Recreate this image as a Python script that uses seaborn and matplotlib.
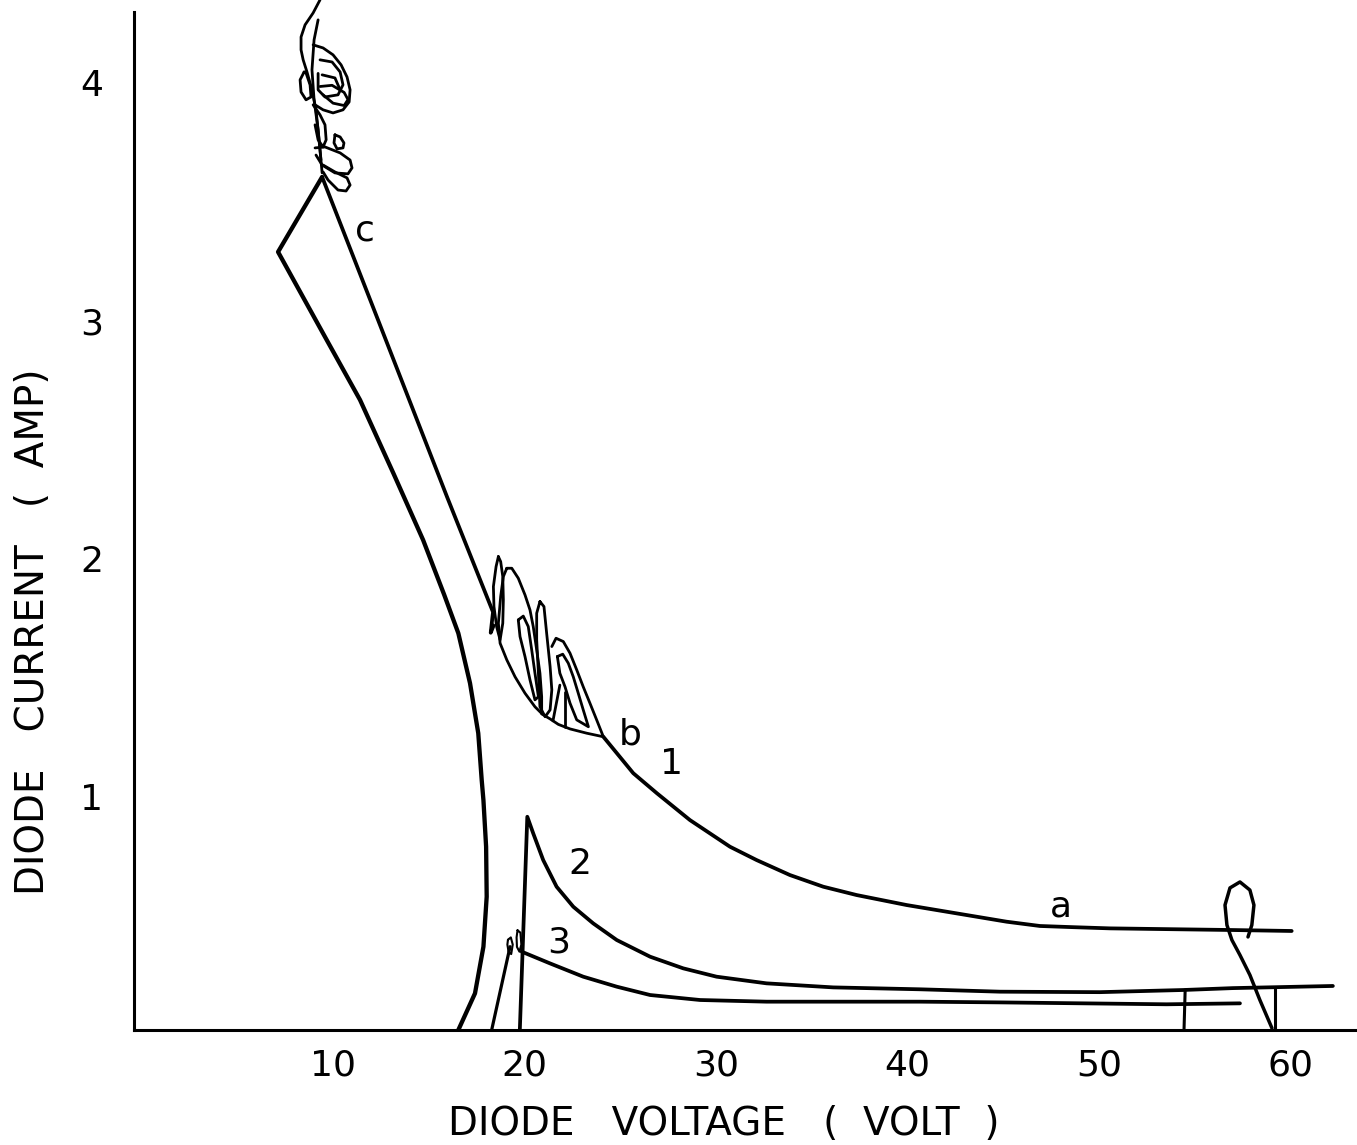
import numpy as np
import pandas as pd
import matplotlib
matplotlib.use("Agg")
import matplotlib.pyplot as plt
import seaborn as sns

# ---------------- data ----------------
# left envelope curve (from the axis up to the corner, then up to the top tangle)
left_x = [16.56, 17.43, 17.87, 18.04, 18.01, 17.87, 17.78, 17.60, 17.17, 16.56, 15.82, 14.72, 13.17, 11.43, 9.69, 7.15, 9.45]
left_y = [0.021, 0.175, 0.371, 0.581, 0.791, 0.987, 1.071, 1.268, 1.478, 1.688, 1.850, 2.080, 2.360, 2.668, 2.920, 3.290, 3.605]

# curve 1, upper part  c -> tangle b
c1_upper_x = [9.45, 12.37, 15.97, 18.37, 18.25, 18.40]
c1_upper_y = [3.605, 3.004, 2.261, 1.777, 1.690, 1.720]

# curve 1, lower part  b -> a
c1_lower_x = [24.13, 25.69, 26.92, 28.65, 30.74, 32.13, 33.87, 35.61, 37.35, 39.96, 42.57, 45.18, 46.92, 48.66, 50.57, 56.99, 60.06]
c1_lower_y = [1.253, 1.100, 1.016, 0.903, 0.791, 0.735, 0.672, 0.623, 0.588, 0.546, 0.511, 0.476, 0.458, 0.453, 0.448, 0.441, 0.437]

# curve 2
c2_x = [19.77, 20.16, 20.47, 20.99, 21.69, 22.56, 23.60, 24.83, 26.57, 28.30, 30.04, 32.65, 36.13, 40.66, 44.83, 50.05, 54.38, 56.99, 62.21]
c2_y = [0.021, 0.917, 0.847, 0.735, 0.623, 0.539, 0.469, 0.399, 0.329, 0.280, 0.245, 0.217, 0.200, 0.192, 0.182, 0.180, 0.189, 0.197, 0.206]

# curve 3
c3_x = [19.87, 21.34, 23.08, 24.83, 26.57, 29.18, 32.65, 36.13, 40.66, 44.83, 53.53, 57.36]
c3_y = [0.350, 0.301, 0.245, 0.203, 0.168, 0.147, 0.140, 0.140, 0.140, 0.137, 0.129, 0.133]

# rising branch of curve 3
rise3_x = [18.30, 19.26]
rise3_y = [0.021, 0.371]

# small loops at the top of the rising branch
small1_x = [19.15, 19.30, 19.40, 19.32, 19.18, 19.12, 19.15]
small1_y = [0.40, 0.41, 0.38, 0.34, 0.35, 0.38, 0.40]
small2_x = [19.65, 19.80, 19.85, 19.75, 19.62, 19.60, 19.65]
small2_y = [0.44, 0.43, 0.38, 0.35, 0.37, 0.41, 0.44]

# vertical markers on the right
vert1_x = [54.44, 54.50]
vert1_y = [0.021, 0.189]
vert2_x = [59.19, 59.19]
vert2_y = [0.021, 0.200]

# loop on the right
rloop_x = [57.78, 57.98, 58.09, 57.88, 57.36, 56.84, 56.58, 56.68, 56.94, 57.36, 57.88, 58.40, 59.03]
rloop_y = [0.412, 0.462, 0.546, 0.609, 0.643, 0.618, 0.546, 0.462, 0.399, 0.336, 0.252, 0.147, 0.029]

# tangle near c (top)
tA_x = [9.34, 8.98, 8.56, 8.35, 8.35, 8.46, 8.66, 8.92, 9.13, 9.24, 9.34, 9.45]
tA_y = [4.349, 4.294, 4.244, 4.193, 4.139, 4.097, 4.046, 3.971, 3.887, 3.803, 3.718, 3.622]
tA2_x = [9.24, 9.03, 8.92, 9.03, 9.24, 9.39]
tA2_y = [4.265, 4.181, 4.055, 3.929, 3.803, 3.676]
tB_x = [8.98, 9.50, 10.02, 10.44, 10.75, 10.91, 10.86, 10.54, 10.02, 9.50, 9.08]
tB_y = [4.160, 4.147, 4.118, 4.076, 4.025, 3.971, 3.920, 3.887, 3.874, 3.887, 3.908]
tC_x = [9.34, 9.97, 10.39, 10.54, 10.28, 9.60, 9.24, 9.24]
tC_y = [4.097, 4.088, 4.046, 3.992, 3.950, 3.941, 3.971, 4.040]
tC2_x = [9.45, 10.12, 10.39]
tC2_y = [4.034, 4.021, 3.971]
tC3_x = [9.34, 9.97, 10.60, 10.80, 10.60, 10.02, 9.50]
tC3_y = [3.985, 3.990, 3.960, 3.930, 3.905, 3.915, 3.950]
tD_x = [8.51, 8.30, 8.35, 8.61, 8.87, 8.82, 8.61, 8.51]
tD_y = [4.046, 4.013, 3.962, 3.929, 3.941, 3.992, 4.042, 4.046]
tE_x = [8.98, 9.34, 9.60, 9.66, 9.50, 9.24, 9.08]
tE_y = [3.908, 3.866, 3.824, 3.761, 3.731, 3.761, 3.824]
tF_x = [10.12, 10.39, 10.59, 10.54, 10.23, 10.07, 10.12]
tF_y = [3.782, 3.773, 3.748, 3.727, 3.723, 3.748, 3.782]
tG_x = [9.08, 9.60, 10.39, 10.91, 11.01, 10.80, 10.12, 9.45, 9.13]
tG_y = [3.727, 3.731, 3.706, 3.676, 3.643, 3.618, 3.622, 3.655, 3.697]
tH_x = [9.50, 10.12, 10.75, 10.91, 10.70, 10.28, 9.76, 9.50]
tH_y = [3.655, 3.626, 3.601, 3.571, 3.546, 3.550, 3.592, 3.626]

# tangle near b
l1_x = [18.65, 18.53, 18.39, 18.42, 18.56, 18.74, 18.88, 18.91, 18.88, 18.77, 18.65]
l1_y = [2.010, 1.968, 1.884, 1.800, 1.715, 1.660, 1.730, 1.828, 1.926, 1.989, 2.010]
l2_x = [19.09, 19.35, 19.69, 20.04, 20.30, 20.47, 20.65, 20.82, 20.91, 20.91, 20.56, 20.04, 19.52, 19.09, 18.74, 18.65, 18.77, 18.91, 19.09]
l2_y = [1.961, 1.961, 1.919, 1.849, 1.786, 1.716, 1.618, 1.520, 1.421, 1.351, 1.379, 1.436, 1.505, 1.576, 1.646, 1.730, 1.842, 1.926, 1.961]
l3_x = [19.69, 19.95, 20.21, 20.39, 20.56, 20.74, 20.56, 20.30, 20.04, 19.78, 19.69]
l3_y = [1.744, 1.760, 1.716, 1.618, 1.520, 1.421, 1.408, 1.492, 1.590, 1.674, 1.744]
l4_x = [20.82, 21.03, 21.17, 21.35, 21.44, 21.35, 21.09, 20.82, 20.74, 20.65, 20.65, 20.82]
l4_y = [1.821, 1.800, 1.688, 1.548, 1.450, 1.366, 1.337, 1.379, 1.520, 1.660, 1.772, 1.821]
l5_x = [21.44, 21.66, 22.04, 22.39, 22.74, 23.08, 23.43, 23.78, 24.13, 23.26, 22.39, 21.78, 21.35, 20.91]
l5_y = [1.632, 1.667, 1.653, 1.604, 1.534, 1.463, 1.394, 1.324, 1.253, 1.268, 1.286, 1.305, 1.328, 1.349]
l6_x = [21.73, 22.01, 22.30, 22.56, 22.82, 23.08, 23.35, 22.74, 22.39, 22.13, 21.86, 21.73]
l6_y = [1.590, 1.600, 1.562, 1.505, 1.436, 1.366, 1.295, 1.324, 1.394, 1.463, 1.520, 1.590]
l7_x = [22.13, 22.13]
l7_y = [1.440, 1.295]
l8_x = [21.50, 21.86]
l8_y = [1.320, 1.470]

labels_text = ["c", "b", "1", "2", "3", "a"]
labels_x = [11.69, 25.52, 27.69, 22.91, 21.81, 48.03]
labels_y = [3.38, 1.262, 1.138, 0.720, 0.390, 0.540]

x_ticks = [10, 20, 30, 40, 50, 60]
y_ticks = [1, 2, 3, 4]

x_title = "DIODE   VOLTAGE   (  VOLT  )"
y_title = "DIODE   CURRENT   (  AMP)"

# ---------------- figure ----------------
sns.set_theme(style="white")
plt.rcParams["font.family"] = ["DejaVu Sans"]

W, H = 1357, 1145
fig = plt.figure(figsize=(W / 100, H / 100), dpi=100)
ax = fig.add_axes([134 / W, 1 - 1030 / H, 1 - 134 / W, (1030 - 12) / H])

main_lw = 2.7
thin_lw = 2.0


def draw(xs, ys, lw, clip=True):
    df = pd.DataFrame({"x": xs, "y": ys})
    sns.lineplot(data=df, x="x", y="y", sort=False, estimator=None, color="black",
                 linewidth=lw, ax=ax, clip_on=clip, solid_joinstyle="round",
                 solid_capstyle="round")


draw(left_x, left_y, 3.1)
draw(c1_upper_x, c1_upper_y, main_lw)
draw(c1_lower_x, c1_lower_y, main_lw)
draw(c2_x, c2_y, main_lw)
draw(c3_x, c3_y, main_lw)
draw(rise3_x, rise3_y, 2.3)
draw(small1_x, small1_y, 1.5)
draw(small2_x, small2_y, 1.5)
draw(vert1_x, vert1_y, 2.2)
draw(vert2_x, vert2_y, 2.2)
draw(rloop_x, rloop_y, 2.5)
for tx, ty in [(tA_x, tA_y), (tA2_x, tA2_y), (tB_x, tB_y), (tC_x, tC_y), (tC2_x, tC2_y),
               (tC3_x, tC3_y), (tD_x, tD_y), (tE_x, tE_y), (tF_x, tF_y), (tG_x, tG_y),
               (tH_x, tH_y)]:
    draw(tx, ty, thin_lw, clip=False)
for tx, ty in [(l1_x, l1_y), (l2_x, l2_y), (l3_x, l3_y), (l4_x, l4_y), (l5_x, l5_y),
               (l6_x, l6_y), (l7_x, l7_y), (l8_x, l8_y)]:
    draw(tx, ty, thin_lw)

for t, lx, ly in zip(labels_text, labels_x, labels_y):
    ax.text(lx, ly, t, fontsize=26, ha="center", va="center", color="black")

ax.set_xlim(-0.37, 63.47)
ax.set_ylim(0.021, 4.298)
ax.set_xticks(x_ticks)
ax.set_xticklabels([str(v) for v in x_ticks])
ax.set_yticks(y_ticks)
ax.set_yticklabels([str(v) for v in y_ticks])
ax.tick_params(axis="both", direction="in", length=10, width=2, colors="black",
               labelsize=26)
ax.tick_params(axis="x", pad=13)
ax.tick_params(axis="y", pad=22)

for s in ["top", "right"]:
    ax.spines[s].set_visible(False)
for s in ["left", "bottom"]:
    ax.spines[s].set_color("black")
    ax.spines[s].set_linewidth(2.2)

ax.set_xlabel(x_title, fontsize=28, color="black")
ax.set_ylabel(y_title, fontsize=28, color="black")
ax.xaxis.set_label_coords(0.482, -0.074)
ax.yaxis.set_label_coords(-0.067, 0.391)
ax.grid(False)

fig.savefig("out.png", dpi=100)
